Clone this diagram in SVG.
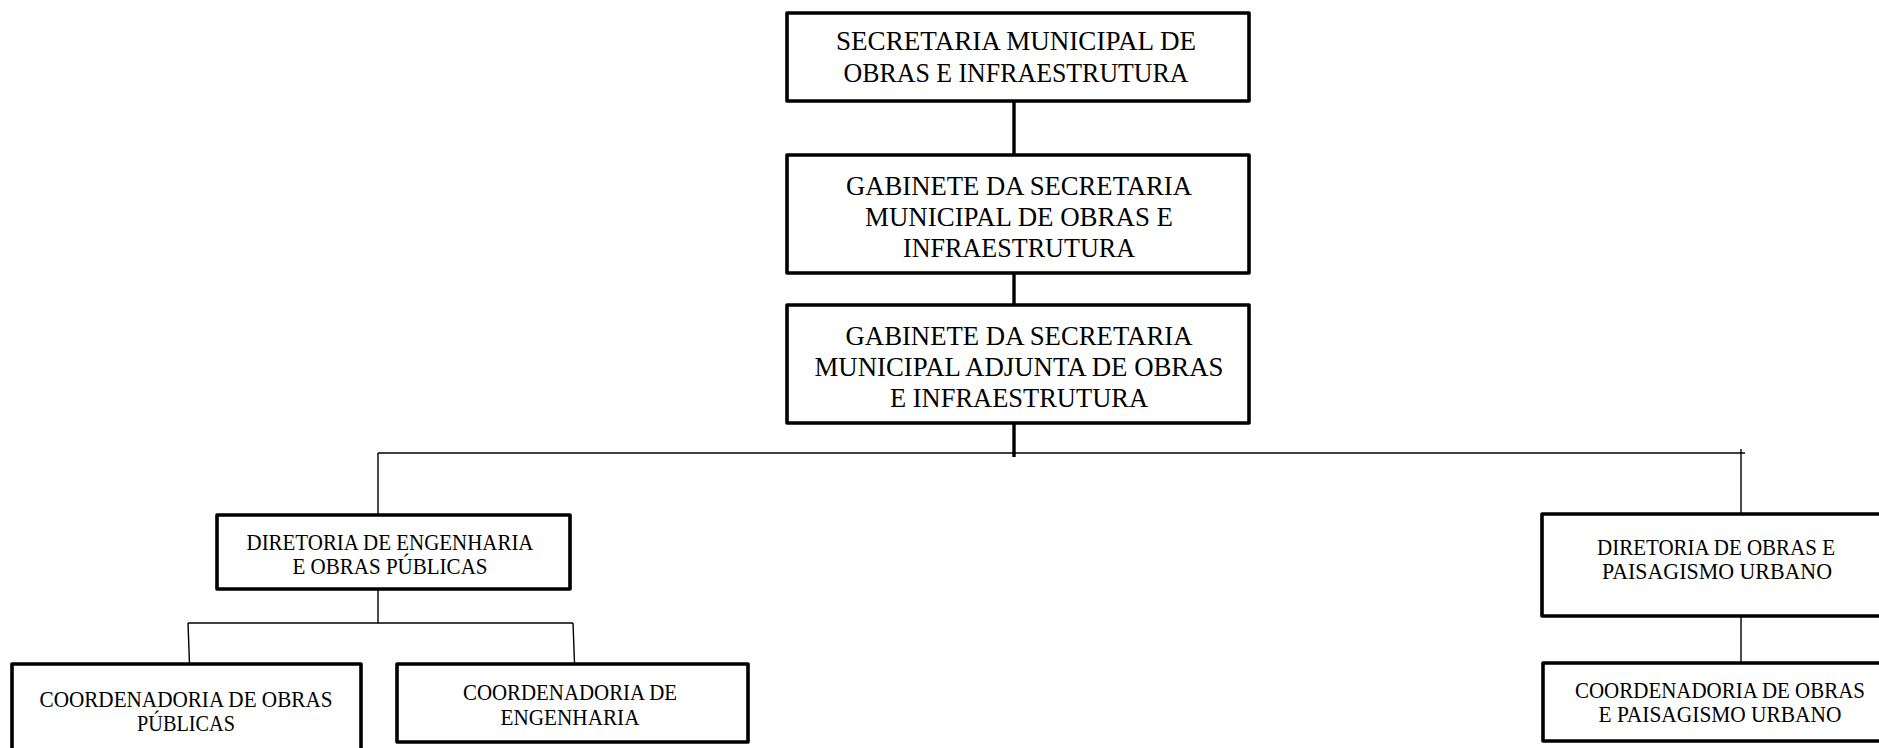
<svg xmlns="http://www.w3.org/2000/svg" width="1879" height="748" viewBox="0 0 1879 748">
<style>
.box{fill:#fff;stroke:#000;stroke-width:3.6;stroke-linejoin:round}
.t{font-family:"Liberation Serif","Times New Roman",serif;fill:#000;text-anchor:middle}
.big{font-size:28px}
.sm{font-size:23px}
.thick{stroke:#000;stroke-width:3.4;fill:none}
.thin{stroke:#000;stroke-width:1.4;fill:none}
</style>
<rect width="1879" height="748" fill="#fff"/>
<g id="connectors">
<line class="thick" x1="1014" y1="101" x2="1014" y2="155"/>
<line class="thick" x1="1014" y1="273" x2="1014" y2="305"/>
<line class="thick" x1="1014" y1="423" x2="1014" y2="457"/>
<line class="thin" x1="378" y1="453" x2="1745" y2="453"/>
<line class="thin" x1="378" y1="453" x2="378" y2="515"/>
<line class="thin" x1="1741" y1="449" x2="1741" y2="514"/>
<line class="thin" x1="378" y1="589" x2="378" y2="623"/>
<line class="thin" x1="188" y1="623" x2="573" y2="623"/>
<line class="thin" x1="188" y1="623" x2="189.5" y2="664"/>
<line class="thin" x1="573" y1="623" x2="574.5" y2="663"/>
<line class="thin" x1="1741" y1="616" x2="1741" y2="663"/>
</g>
<g id="secretaria">
<rect class="box" x="787" y="13" width="462" height="88"/>
<text class="t big" x="1016" y="50" textLength="360" lengthAdjust="spacingAndGlyphs">SECRETARIA MUNICIPAL DE</text>
<text class="t big" x="1016" y="82" textLength="345" lengthAdjust="spacingAndGlyphs">OBRAS E INFRAESTRUTURA</text>
</g>
<g id="gabinete">
<rect class="box" x="787" y="155" width="462" height="118"/>
<text class="t big" x="1019" y="195" textLength="346" lengthAdjust="spacingAndGlyphs">GABINETE DA SECRETARIA</text>
<text class="t big" x="1019" y="226" textLength="308" lengthAdjust="spacingAndGlyphs">MUNICIPAL DE OBRAS E</text>
<text class="t big" x="1019" y="257" textLength="232" lengthAdjust="spacingAndGlyphs">INFRAESTRUTURA</text>
</g>
<g id="gabinete-adjunta">
<rect class="box" x="787" y="305" width="462" height="118"/>
<text class="t big" x="1019" y="345" textLength="347" lengthAdjust="spacingAndGlyphs">GABINETE DA SECRETARIA</text>
<text class="t big" x="1019" y="376" textLength="409" lengthAdjust="spacingAndGlyphs">MUNICIPAL ADJUNTA DE OBRAS</text>
<text class="t big" x="1019" y="407" textLength="258" lengthAdjust="spacingAndGlyphs">E INFRAESTRUTURA</text>
</g>
<g id="diretoria-engenharia">
<rect class="box" x="217" y="515" width="353" height="74"/>
<text class="t sm" x="390" y="550" textLength="287" lengthAdjust="spacingAndGlyphs">DIRETORIA DE ENGENHARIA</text>
<text class="t sm" x="390" y="574" textLength="195" lengthAdjust="spacingAndGlyphs">E OBRAS PÚBLICAS</text>
</g>
<g id="coord-obras-publicas">
<rect class="box" x="12" y="664" width="349" height="110"/>
<text class="t sm" x="186" y="707" textLength="293" lengthAdjust="spacingAndGlyphs">COORDENADORIA DE OBRAS</text>
<text class="t sm" x="186" y="731" textLength="98" lengthAdjust="spacingAndGlyphs">PÚBLICAS</text>
</g>
<g id="coord-engenharia">
<rect class="box" x="397" y="664" width="351" height="78"/>
<text class="t sm" x="570" y="700" textLength="214" lengthAdjust="spacingAndGlyphs">COORDENADORIA DE</text>
<text class="t sm" x="570" y="725" textLength="139" lengthAdjust="spacingAndGlyphs">ENGENHARIA</text>
</g>
<g id="diretoria-paisagismo">
<rect class="box" x="1542" y="514" width="348" height="102"/>
<text class="t sm" x="1716" y="555" textLength="238" lengthAdjust="spacingAndGlyphs">DIRETORIA DE OBRAS E</text>
<text class="t sm" x="1717" y="579" textLength="230" lengthAdjust="spacingAndGlyphs">PAISAGISMO URBANO</text>
</g>
<g id="coord-paisagismo">
<rect class="box" x="1543" y="663" width="354" height="78"/>
<text class="t sm" x="1720" y="698" textLength="290" lengthAdjust="spacingAndGlyphs">COORDENADORIA DE OBRAS</text>
<text class="t sm" x="1720" y="722" textLength="243" lengthAdjust="spacingAndGlyphs">E PAISAGISMO URBANO</text>
</g>
</svg>
